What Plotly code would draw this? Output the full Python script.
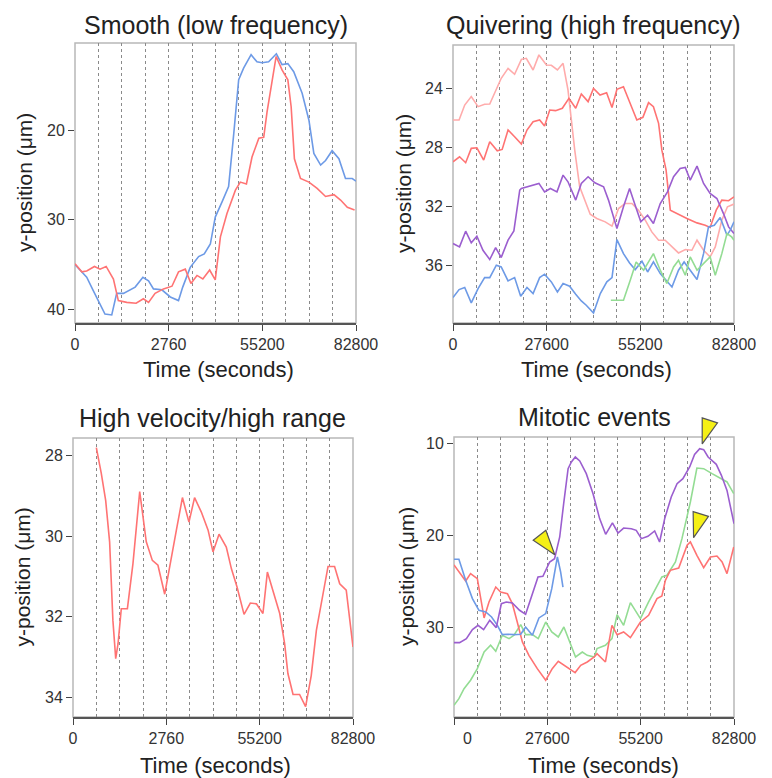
import plotly.graph_objects as go

# ---------------- data ----------------
# Panel 1: Smooth (low frequency)
p1_blue_t = [0, 3450, 5380, 7380, 8830, 10830, 12280, 14280, 17730, 20010, 21670, 23120, 25600, 28080,
             30500, 31740, 33950, 36430, 38090, 39880, 41330, 43330, 45260, 46780, 48230, 49680, 51890,
             53610, 55130, 57060, 59340, 61000, 62720, 64450, 66930, 68930, 70380, 72380, 73830, 75760,
             77760, 79700, 81700, 82800]
p1_blue_y = [35.0, 36.4, 37.9, 39.4, 40.5, 40.6, 38.2, 38.2, 37.5, 36.4, 36.8, 37.7, 37.8, 38.6,
             39.0, 37.5, 35.3, 34.1, 33.8, 32.7, 29.7, 28.0, 26.3, 20.4, 14.4, 13.1, 11.6,
             12.4, 12.5, 12.4, 11.5, 12.7, 12.6, 13.5, 15.9, 18.9, 22.6, 23.9, 23.4, 22.3,
             23.2, 25.4, 25.4, 25.7]
p1_red_t = [0, 2000, 3450, 5730, 7380, 9180, 11320, 12770, 15250, 18010, 20150, 21670, 23600, 26080,
            28570, 30500, 32500, 34160, 35950, 37670, 39680, 41330, 42850, 44780, 47270, 48710, 50510,
            52160, 54170, 55610, 56580, 59270, 61000, 62720, 63690, 64650, 66450, 68930, 71350, 73830,
            76310, 78250, 80250, 82390]
p1_red_y = [34.9, 35.8, 35.7, 35.2, 35.5, 35.2, 36.6, 39.0, 39.2, 39.3, 38.8, 39.2, 38.2, 37.7,
            37.4, 35.8, 35.5, 37.1, 36.2, 36.6, 35.6, 36.7, 31.9, 29.3, 26.7, 25.8, 26.0,
            23.0, 20.9, 20.8, 18.0, 11.8, 13.3, 14.4, 17.4, 23.2, 25.4, 25.8, 26.5, 27.4,
            27.2, 27.8, 28.6, 28.9]

# Panel 2: Quivering (high frequency)
p2_pale_t = [0, 1790, 3450, 5380, 7380, 9320, 10830, 12280, 14210, 16220, 18150, 20150, 21600, 23600,
             25320, 27530, 28980, 30770, 32430, 33880, 35880, 37330, 39260, 40430, 42370, 44850, 46850,
             48780, 50720, 52720, 54650, 56650, 58580, 60580, 62510, 64520, 66450, 68450, 70380, 71900,
             73830, 75760, 77280, 79210, 80870, 82800]
p2_pale_y = [26.14, 26.14, 25.13, 24.56, 25.24, 25.08, 25.06, 24.34, 23.32, 22.65, 23.05, 22.04, 21.97, 22.76,
             21.74, 22.42, 22.44, 22.76, 22.31, 24.1, 28.2, 30.66, 31.79, 32.51, 32.8, 33.03, 33.32,
             32.13, 31.79, 31.79, 32.24, 32.92, 33.71, 34.27, 34.27, 34.72, 35.13, 34.9, 34.95, 34.27,
             34.95, 35.4, 34.72, 32.92, 32.01, 31.83]
p2_red_t = [0, 1930, 3730, 5380, 7040, 9040, 10830, 13040, 14490, 16220, 18150, 20150, 21800, 23600,
            25530, 26980, 28500, 30220, 32220, 34160, 36160, 37810, 39810, 41400, 43330, 45260, 46850,
            48300, 50230, 52230, 54170, 55960, 57620, 59060, 60580, 61550, 62790, 64030, 65960, 68930,
            71900, 74310, 75760, 77560, 79210, 81210, 82800]
p2_red_y = [28.97, 28.63, 29.03, 28.06, 28.02, 28.85, 27.61, 28.22, 28.13, 26.82, 27.27, 27.77, 26.82, 26.26,
            26.14, 26.55, 25.47, 25.51, 25.35, 24.68, 25.35, 24.38, 24.9, 24.0, 24.45, 24.3, 25.3,
            24.07, 23.89, 25.06, 26.14, 25.96, 24.97, 25.24, 26.37, 28.18, 29.53, 32.24, 32.47, 32.8,
            33.1, 33.26, 33.41, 32.24, 31.56, 31.6, 31.34]
p2_purple_t = [0, 1930, 3730, 5380, 7040, 8830, 10830, 12560, 14210, 16220, 17940, 19670, 20150, 22560,
               25320, 26980, 28700, 30640, 32430, 33880, 36160, 37810, 39810, 41810, 44370, 45820, 48300,
               50230, 52030, 53680, 55340, 57340, 59060, 61070, 63200, 65000, 66930, 68450, 69900, 71900,
               73830, 75760, 77760, 79700, 81210, 82800]
p2_purple_y = [34.5, 34.72, 33.66, 34.45, 34.0, 34.95, 35.58, 34.77, 35.44, 34.27, 33.64, 30.88, 30.77, 30.61,
               30.43, 31.0, 30.77, 31.0, 29.87, 30.32, 31.56, 30.43, 29.98, 30.39, 30.66, 31.56, 33.48,
               32.01, 30.77, 31.9, 33.03, 32.58, 33.14, 31.79, 31.0, 29.98, 29.42, 29.35, 30.21, 29.26,
               30.43, 31.11, 31.45, 32.47, 33.37, 33.82]
p2_blue_t = [0, 1790, 3450, 5380, 7380, 9320, 10830, 12770, 14210, 16220, 18150, 19940, 21800, 23600,
             25530, 26980, 28980, 30770, 32430, 34360, 36160, 37810, 39260, 41400, 43400, 45330, 46850,
             48300, 50230, 52030, 53680, 55680, 57340, 59060, 61070, 62790, 64520, 66450, 68100, 69900,
             71900, 73830, 75280, 77000, 78730, 80730, 81700, 82800]
p2_blue_y = [38.15, 37.61, 37.47, 38.51, 37.54, 36.8, 36.8, 35.96, 36.08, 37.02, 36.8, 38.06, 37.47, 37.88,
             36.8, 36.57, 37.09, 37.77, 37.2, 37.38, 37.93, 38.38, 38.67, 39.2, 37.88, 37.09, 36.8,
             34.23, 35.18, 35.81, 36.26, 35.69, 36.42, 35.74, 36.53, 36.98, 37.43, 36.3, 35.74, 36.3,
             36.93, 35.18, 33.37, 33.26, 32.74, 33.93, 33.59, 33.03]
p2_green_t = [46510, 50230, 52230, 53960, 56170, 59060, 61070, 63000, 65000, 66450, 68450, 69900, 71900,
              74310, 75760, 77280, 79210, 80730, 82110, 82800]
p2_green_y = [38.33, 38.33, 36.98, 35.74, 36.3, 35.18, 36.3, 37.2, 36.08, 35.63, 36.64, 35.4, 36.3,
              35.74, 35.4, 36.64, 35.18, 33.82, 34.05, 34.27]

# Panel 3: High velocity/high range
p3_red_t = [6900, 8350, 9660, 10830, 11800, 12630, 13320, 14280, 16080, 17730, 19730, 21670, 23460, 25120,
            27120, 28570, 30570, 32360, 34290, 35950, 37950, 39950, 41400, 43190, 45330, 46850, 48510,
            50580, 52440, 54230, 56170, 57480, 59130, 61130, 62580, 63550, 65070, 67000, 68790, 70450,
            71970, 75420, 77350, 78870, 80800, 82800]
p3_red_y = [27.8, 28.43, 29.11, 30.14, 32.09, 33.04, 32.67, 31.8, 31.8, 30.68, 28.89, 30.14, 30.6, 30.72,
            31.44, 30.81, 29.85, 29.04, 29.65, 29.04, 29.4, 29.85, 30.39, 29.95, 30.27, 30.81, 31.26,
            31.94, 31.66, 31.68, 31.92, 30.89, 31.34, 31.92, 32.67, 33.41, 33.93, 33.93, 34.23, 33.46,
            32.34, 30.75, 30.75, 31.18, 31.34, 32.75]

# Panel 4: Mitotic events
p4_purple_t = [0, 1660, 3660, 5450, 7110, 8760, 10560, 12490, 14010, 15460, 17250, 19390, 21180, 23390,
               24840, 26290, 28290, 29740, 31260, 32430, 33740, 34710, 35880, 37190, 39120, 41120, 43060,
               44850, 46850, 48510, 50160, 52440, 53890, 55410, 57340, 59340, 60790, 62310, 64240, 65960,
               67690, 69690, 71140, 72660, 73830, 75140, 76590, 77560, 79070, 80730, 82800]
p4_purple_y = [31.62, 31.62, 31.19, 30.22, 29.75, 30.22, 29.21, 30.0, 27.4, 27.22, 27.33, 28.12, 28.56, 25.96,
               24.51, 24.44, 22.89, 22.53, 20.18, 16.57, 12.78, 12.06, 11.52, 11.95, 13.32, 15.49, 18.19,
               19.89, 18.66, 19.75, 19.21, 19.28, 19.46, 20.36, 20.11, 19.53, 20.72, 18.19, 15.85, 14.4,
               13.86, 12.6, 11.23, 10.61, 10.72, 11.52, 12.06, 12.31, 13.5, 15.13, 18.74]
p4_blue_t = [0, 1450, 3450, 5450, 7380, 9380, 11110, 12830, 14280, 15800, 17730, 19730, 21180, 23180,
             25120, 27120, 28910, 30570, 31530, 32220]
p4_blue_y = [22.6, 22.6, 24.87, 26.86, 28.12, 28.3, 28.84, 29.75, 30.76, 30.72, 30.76, 30.72, 29.93, 30.83,
             28.95, 28.48, 25.78, 22.35, 23.97, 25.6]
p4_red_t = [0, 1450, 3450, 4900, 6900, 8900, 10350, 12350, 13800, 15800, 17250, 18700, 20220, 22150,
            24630, 27120, 29050, 30840, 32500, 34020, 35810, 37470, 39400, 41470, 42300, 44780, 46710,
            48230, 50160, 52160, 55130, 57550, 60030, 61480, 62510, 63960, 66450, 68930, 69900, 71830,
            73830, 75830, 77760, 79280, 80730, 82730]
p4_red_y = [23.2, 23.97, 24.95, 24.15, 24.69, 28.95, 27.22, 25.6, 26.14, 26.32, 27.4, 29.39, 31.55, 33.0,
            34.44, 35.7, 34.44, 33.65, 34.08, 34.44, 34.87, 34.08, 33.72, 33.18, 32.82, 33.72, 29.75,
            30.76, 30.47, 31.08, 29.39, 28.66, 26.86, 26.57, 24.87, 23.79, 23.54, 21.08, 20.72, 22.17,
            23.5, 22.35, 22.24, 22.89, 24.15, 21.26]
p4_green_t = [0, 1450, 2970, 4900, 6900, 8900, 10830, 12350, 14280, 16280, 17730, 19730, 21180, 23180,
              24910, 27120, 28910, 30840, 32500, 34020, 35950, 37950, 39400, 41470, 42300, 44780, 46710,
              48230, 50160, 52160, 55130, 57550, 60030, 61480, 63000, 65480, 67410, 69900, 71830, 73830,
              76310, 78730, 80730, 82730]
p4_green_y = [38.41, 37.69, 36.61, 35.7, 34.44, 32.64, 31.91, 32.56, 30.83, 31.19, 30.83, 29.68, 30.76, 30.76,
              31.19, 29.39, 30.47, 31.01, 29.93, 31.37, 33.18, 32.64, 33.0, 33.18, 32.27, 31.91, 31.19,
              28.59, 29.75, 27.29, 29.03, 27.22, 25.42, 24.51, 24.33, 22.89, 20.36, 16.39, 12.71, 12.78,
              13.32, 13.86, 14.22, 15.49]
# mitotic event positions (arrow tips) and arrow directions
event_t = [29800, 73400, 70850]
event_y = [22.1, 10.1, 20.25]
event_angle = [142, 198, 197]

tick_vals = [0, 27600, 55200, 82800]
tick_text_a = ["0", "2760", "55200", "82800"]
tick_text_b = ["0", "27600", "55200", "82800"]
tick_text_c = ["\u2007\u2007\u20070", "27600", "55200", "82800"]

titles = ["Smooth (low frequency)", "Quivering (high frequency)",
          "High velocity/high range", "Mitotic events"]
x_title = "Time (seconds)"
y_title = "y-position (\u03bcm)"

# ---------------- styling ----------------
FONT = "Liberation Sans, Arial, sans-serif"
RED = "#ff7373"
PALE = "#ffabab"
BLUE = "#6d9ae6"
PURPLE = "#9b5ecf"
GREEN = "#93dc93"

W, H = 772, 778
# plot boxes in pixels: (left, right, top, bottom)
boxes = [(75, 356, 43, 323), (453, 734, 45, 323), (73, 353, 438, 717), (454, 734, 437, 717)]
yranges = [[41.5, 10.3], [39.87, 21.07], [34.49, 27.56], [39.68, 9.35]]
ytick_sets = [[20, 30, 40], [24, 28, 32, 36], [28, 30, 32, 34], [10, 20, 30]]
xtexts = [tick_text_a, tick_text_b, tick_text_a, tick_text_c]
# axis-title pixel positions
xtitle_pos = [(218, 370), (596, 370), (215, 765), (603, 765)]
ytitle_x = [25, 403, 22, 406]
title_y = [25, 25, 418, 417]

fig = go.Figure()

series = [
    (1, p1_blue_t, p1_blue_y, BLUE), (1, p1_red_t, p1_red_y, RED),
    (2, p2_pale_t, p2_pale_y, PALE), (2, p2_red_t, p2_red_y, RED),
    (2, p2_purple_t, p2_purple_y, PURPLE), (2, p2_blue_t, p2_blue_y, BLUE),
    (2, p2_green_t, p2_green_y, GREEN),
    (3, p3_red_t, p3_red_y, RED),
    (4, p4_green_t, p4_green_y, GREEN), (4, p4_red_t, p4_red_y, RED),
    (4, p4_blue_t, p4_blue_y, BLUE), (4, p4_purple_t, p4_purple_y, PURPLE),
]
for idx, t, y, c in series:
    sfx = "" if idx == 1 else str(idx)
    fig.add_trace(go.Scatter(x=t, y=y, mode="lines", line=dict(color=c, width=1.6),
                             xaxis="x" + sfx, yaxis="y" + sfx, showlegend=False, hoverinfo="skip"))

# event arrow heads
fig.add_trace(go.Scatter(x=event_t, y=event_y, mode="markers", xaxis="x4", yaxis="y4",
                         cliponaxis=False, showlegend=False, hoverinfo="skip",
                         marker=dict(symbol="arrow", size=26, angle=event_angle, color="#f5f016",
                                     line=dict(color="#555", width=1.2))))

layout = dict(width=W, height=H, margin=dict(l=0, r=0, t=0, b=0, autoexpand=False),
              paper_bgcolor="white", plot_bgcolor="white",
              font=dict(family=FONT, color="#222"), showlegend=False)
annotations = []
shapes = []
for i, (l, r, t, b) in enumerate(boxes):
    n = i + 1
    sfx = "" if n == 1 else str(n)
    xd = [l / W, r / W]
    yd = [1 - b / H, 1 - t / H]
    layout["xaxis" + sfx] = dict(
        domain=xd, anchor="y" + sfx, range=[0, 82800], tickmode="array", automargin=False,
        tickvals=tick_vals, ticktext=xtexts[i], ticks="outside", ticklen=6, tickwidth=1.3,
        tickcolor="#444", showline=True, linecolor="#555", linewidth=1.5, mirror=False,
        showgrid=True, gridcolor="#8a8a8a", griddash="dot", gridwidth=1,
        minor=dict(dtick=6900, tick0=0, showgrid=True, gridcolor="#8a8a8a", griddash="dot",
                   gridwidth=1, ticks=""),
        zeroline=False, tickfont=dict(size=16, color="#333"))
    layout["yaxis" + sfx] = dict(
        domain=yd, anchor="x" + sfx, range=yranges[i], tickmode="array", automargin=False,
        tickvals=ytick_sets[i], ticks="outside", ticklen=6, tickwidth=1.3, tickcolor="#444",
        showline=False, showgrid=False, zeroline=False, tickfont=dict(size=16, color="#333"))
    shapes.append(dict(type="rect", xref="x" + sfx + " domain", yref="y" + sfx + " domain",
                       x0=0, x1=1, y0=0, y1=1, line=dict(color="#b8b8b8", width=1.5), layer="below"))
    annotations.append(dict(text=titles[i], xref="paper", yref="paper",
                            x=(l + r) / 2 / W, y=1 - title_y[i] / H, xanchor="center", yanchor="middle",
                            showarrow=False, font=dict(size=25, color="#222")))
    annotations.append(dict(text=x_title, xref="paper", yref="paper",
                            x=xtitle_pos[i][0] / W, y=1 - xtitle_pos[i][1] / H,
                            xanchor="center", yanchor="middle",
                            showarrow=False, font=dict(size=22, color="#222")))
    annotations.append(dict(text=y_title, xref="paper", yref="paper", textangle=-90,
                            x=ytitle_x[i] / W, y=1 - (t + b) / 2 / H,
                            xanchor="center", yanchor="middle",
                            showarrow=False, font=dict(size=21, color="#222")))

layout["annotations"] = annotations
layout["shapes"] = shapes
fig.update_layout(**layout)
fig.write_html("out.html", config={"displayModeBar": False},
               post_script="document.body.style.margin='0px';document.body.style.overflow='hidden';")
